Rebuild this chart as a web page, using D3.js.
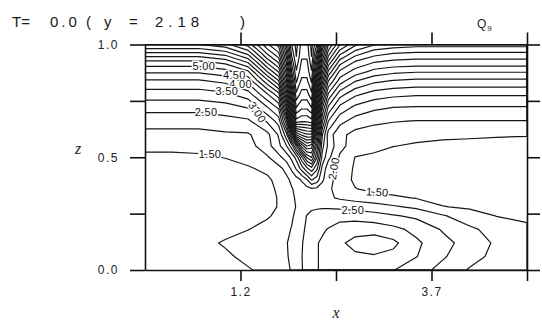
<!DOCTYPE html>
<html>
<head>
<meta charset="utf-8">
<script src="https://cdn.jsdelivr.net/npm/d3@7"></script>
<style>
  html, body { margin: 0; padding: 0; background: #fff; }
  svg { display: block; font-family: "Liberation Sans", Arial, sans-serif; }
</style>
</head>
<body>
<svg id="chart" width="542" height="321"></svg>
<script>
// Section nodes: x along the cross-section, z height (bottom to top)
const xNodes = [-0.05, 0.3, 0.65, 1.0, 1.3, 1.55, 1.7, 1.8, 1.87, 1.93, 2.0, 2.07, 2.13,
                2.2, 2.27, 2.35, 2.5, 2.7, 2.95, 3.2, 3.5, 3.85, 4.2, 4.55, 4.95];
const zNodes = [0, 0.06, 0.12, 0.18, 0.24, 0.28, 0.32, 0.36, 0.40, 0.45, 0.50, 0.55,
                0.60, 0.66, 0.72, 0.78, 0.84, 0.88, 0.92, 0.95, 0.975, 1.0];

// Q9 on the nodes, one row per z level (bottom row first)
const qRows = [
  [1.3, 1.3, 1.31, 1.36, 1.46, 1.62, 1.78, 1.9, 2.04, 2.2, 2.46, 2.7, 2.88, 2.98, 3.05, 3.1, 3.18, 3.25, 3.2, 3.02, 2.7, 2.35, 1.95, 1.75, 1.7],
  [1.3, 1.3, 1.32, 1.42, 1.62, 1.78, 1.88, 1.96, 2.08, 2.22, 2.48, 2.72, 2.9, 2.98, 3.05, 3.12, 3.25, 3.4, 3.45, 3.35, 3.02, 2.55, 2.2, 1.85, 1.7],
  [1.3, 1.31, 1.35, 1.55, 1.72, 1.84, 1.92, 1.98, 2.08, 2.2, 2.45, 2.7, 2.88, 2.98, 3.05, 3.15, 3.4, 3.68, 3.8, 3.62, 3.1, 2.65, 2.3, 1.92, 1.68],
  [1.3, 1.3, 1.31, 1.35, 1.49, 1.65, 1.8, 1.92, 2.02, 2.15, 2.38, 2.6, 2.78, 2.88, 2.95, 3.02, 3.18, 3.28, 3.3, 3.15, 2.85, 2.45, 2.1, 1.8, 1.58],
  [1.3, 1.3, 1.3, 1.32, 1.36, 1.45, 1.6, 1.8, 1.95, 2.08, 2.3, 2.52, 2.65, 2.72, 2.78, 2.82, 2.85, 2.82, 2.7, 2.55, 2.4, 2.05, 1.7, 1.49, 1.42],
  [1.3, 1.3, 1.3, 1.31, 1.34, 1.4, 1.52, 1.7, 1.88, 2.02, 2.2, 2.32, 2.4, 2.42, 2.43, 2.42, 2.38, 2.3, 2.2, 2.07, 1.9, 1.52, 1.43, 1.36, 1.34],
  [1.31, 1.31, 1.31, 1.32, 1.35, 1.4, 1.52, 1.75, 1.92, 2.05, 2.2, 2.3, 2.33, 2.28, 2.18, 2.08, 1.93, 1.82, 1.72, 1.6, 1.47, 1.35, 1.3, 1.28, 1.28],
  [1.32, 1.32, 1.32, 1.33, 1.36, 1.41, 1.55, 1.8, 1.97, 2.1, 2.25, 2.35, 2.45, 2.4, 2.25, 2.1, 1.75, 1.52, 1.35, 1.27, 1.24, 1.23, 1.23, 1.23, 1.24],
  [1.33, 1.33, 1.34, 1.35, 1.38, 1.44, 1.6, 1.88, 2.1, 2.3, 2.55, 2.95, 3.55, 3.25, 2.6, 2.15, 1.8, 1.4, 1.3, 1.25, 1.24, 1.24, 1.24, 1.24, 1.25],
  [1.36, 1.36, 1.37, 1.4, 1.46, 1.58, 1.85, 2.15, 2.6, 3.05, 3.7, 4.4, 4.82, 4.1, 2.85, 2.2, 1.75, 1.45, 1.35, 1.3, 1.28, 1.27, 1.27, 1.27, 1.27],
  [1.44, 1.44, 1.46, 1.51, 1.62, 1.94, 2.36, 2.72, 3.14, 3.68, 4.86, 6.09, 6.55, 5.05, 3.35, 2.63, 1.94, 1.49, 1.42, 1.35, 1.32, 1.31, 1.31, 1.31, 1.31],
  [1.57, 1.57, 1.58, 1.62, 1.8, 2.3, 2.87, 3.45, 4.26, 5.55, 7.19, 8.02, 7.73, 5.82, 3.67, 2.87, 2.13, 1.8, 1.62, 1.51, 1.45, 1.42, 1.41, 1.4, 1.39],
  [1.85, 1.85, 1.85, 1.92, 1.94, 2.36, 3.06, 4.3, 6.45, 9.02, 9.6, 9.9, 9.9, 6.7, 4.06, 2.76, 2.14, 1.83, 1.75, 1.65, 1.62, 1.57, 1.55, 1.53, 1.52],
  [2.2, 2.2, 2.2, 2.3, 2.4, 3.06, 3.72, 5.83, 9.55, 12.3, 12.1, 12.1, 12.3, 8.1, 5.11, 3.49, 2.66, 2.29, 2.1, 2.03, 1.98, 1.98, 1.98, 1.98, 1.98],
  [2.68, 2.68, 2.68, 2.79, 3.02, 3.95, 4.6, 7.52, 10.8, 13.5, 13.1, 13.1, 13.5, 9.4, 6.1, 4.39, 3.35, 2.86, 2.6, 2.49, 2.45, 2.45, 2.45, 2.45, 2.45],
  [3.25, 3.25, 3.25, 3.39, 3.78, 4.96, 5.83, 9.1, 12.02, 14.4, 13.8, 13.8, 14.4, 10.6, 7.4, 5.43, 4.23, 3.62, 3.28, 3.14, 3.07, 3.07, 3.07, 3.07, 3.07],
  [3.95, 3.95, 3.95, 4.15, 4.69, 6.38, 7.52, 10.4, 13.2, 15.1, 14.4, 14.4, 15.1, 11.8, 8.78, 6.52, 5.3, 4.56, 4.14, 3.98, 3.9, 3.9, 3.9, 3.9, 3.9],
  [4.6, 4.6, 4.6, 4.81, 5.43, 7.52, 8.57, 11.2, 14.02, 15.45, 14.7, 14.7, 15.45, 12.6, 9.6, 7.4, 5.9, 5.3, 4.83, 4.64, 4.55, 4.55, 4.55, 4.55, 4.55],
  [5.3, 5.3, 5.3, 5.62, 6.52, 8.57, 9.55, 12.02, 14.6, 15.8, 14.9, 14.9, 15.8, 13.4, 10.4, 8.33, 6.7, 5.9, 5.49, 5.35, 5.3, 5.3, 5.3, 5.3, 5.3],
  [6.1, 6.1, 6.1, 6.44, 7.36, 9.33, 10.2, 12.6, 15.02, 16.02, 15.1, 15.1, 16.02, 14.02, 11.02, 9.02, 7.4, 6.52, 6.02, 5.78, 5.7, 5.7, 5.7, 5.7, 5.7],
  [6.8, 6.8, 6.8, 7.14, 8.03, 9.89, 10.7, 13.1, 15.3, 16.1, 15.2, 15.2, 16.1, 14.52, 11.52, 9.52, 7.98, 7.05, 6.47, 6.3, 6.2, 6.2, 6.2, 6.2, 6.2],
  [7.5, 7.5, 7.5, 7.82, 8.7, 10.4, 11.2, 13.6, 15.52, 16.2, 15.3, 15.3, 16.2, 15.02, 12.02, 10.02, 8.55, 7.63, 7.05, 6.82, 6.7, 6.7, 6.7, 6.7, 6.7]
];

// Contour interval 0.5
const contourLevels = [1.5, 2.0, 2.5, 3.0, 3.5, 4.0, 4.5, 5.0, 5.5, 6.0, 6.5, 7.0,
                       7.5, 8.0, 8.5, 9.0, 9.5, 10.0, 10.5, 11.0, 11.5, 12.0, 12.5,
                       13.0, 13.5, 14.0, 14.5, 15.0, 15.5, 16.0];

// Labelled contour values
const labelValues = [5.0, 4.5, 4.0, 3.5, 2.5, 3.0, 1.5, 2.0, 1.5, 2.5];

// Axis ticks
const xTicks = [1.2, 2.45, 3.7, 4.95];
const xTickLabels = ["1.2", "", "3.7", ""];
const zTicks = [0, 0.25, 0.5, 0.75, 1.0];
const zTickLabels = ["0.0", "", "0.5", "", "1.0"];

// ---------------------------------------------------------------------------
const svg = d3.select("#chart");
const W = 542, H = 321;
const plot = { left: 145, right: 527, top: 44.5, bottom: 270 };

const xScale = d3.scaleLinear().domain([-0.05, 4.95]).range([plot.left, plot.right]);
const zScale = d3.scaleLinear().domain([0, 1]).range([plot.bottom, plot.top]);

svg.append("rect").attr("width", W).attr("height", H).attr("fill", "#fff");

svg.append("defs").append("clipPath").attr("id", "plotClip")
  .append("rect")
  .attr("x", plot.left).attr("y", plot.top)
  .attr("width", plot.right - plot.left).attr("height", plot.bottom - plot.top);

// Flatten the node grid for d3.contours
const nx = xNodes.length, nz = zNodes.length;
const values = [];
for (let j = 0; j < nz; j++) for (let i = 0; i < nx; i++) values.push(qRows[j][i]);

const contours = d3.contours().size([nx, nz]).thresholds(contourLevels)(values);

// Grid coordinate -> node coordinate (nodes are unevenly spaced)
function gridToValue(nodes, g) {
  const u = Math.max(0, Math.min(nodes.length - 1, g - 0.5));
  const k = Math.min(nodes.length - 2, Math.floor(u));
  const f = u - k;
  return nodes[k] + f * (nodes[k + 1] - nodes[k]);
}

const proj = d3.geoTransform({
  point(gx, gz) {
    this.stream.point(xScale(gridToValue(xNodes, gx)), zScale(gridToValue(zNodes, gz)));
  }
});
const path = d3.geoPath(proj);

svg.append("g")
  .attr("clip-path", "url(#plotClip)")
  .selectAll("path")
  .data(contours)
  .join("path")
  .attr("d", path)
  .attr("fill", "none")
  .attr("stroke", "#161616")
  .attr("stroke-width", 1.2)
  .attr("stroke-linejoin", "round");

// Contour labels (x, z, rotation) in the same order as labelValues
const labelAnchors = [
  [0.72, 0.905, 0], [1.12, 0.866, 0], [1.2, 0.825, 0], [1.02, 0.795, 0],
  [0.75, 0.702, 0], [1.42, 0.7, 56], [0.80, 0.515, 0], [2.42, 0.45, -80],
  [2.99, 0.346, 4], [2.67, 0.264, 0]
];
const lab = svg.append("g").attr("font-size", 11).attr("letter-spacing", 0.3);
labelValues.forEach((v, i) => {
  const [lx, lz, ang] = labelAnchors[i];
  lab.append("text")
    .attr("transform", `translate(${xScale(lx)},${zScale(lz)}) rotate(${ang})`)
    .attr("text-anchor", "middle")
    .attr("dy", "0.36em")
    .attr("fill", "#111")
    .attr("stroke", "#fff")
    .attr("stroke-width", 3)
    .attr("paint-order", "stroke")
    .text(v.toFixed(2));
});

// Frame with outward ticks on all four sides
function styleAxis(g) {
  g.selectAll("path, line").attr("stroke", "#111").attr("stroke-width", 1.6);
  g.selectAll("text").attr("fill", "#222").attr("font-family", '"Liberation Sans", Arial, sans-serif');
}

svg.append("g").attr("transform", `translate(0,${plot.bottom})`)
  .call(d3.axisBottom(xScale).tickValues(xTicks).tickSize(11).tickSizeOuter(0)
    .tickPadding(6).tickFormat((d, i) => xTickLabels[i]))
  .call(styleAxis)
  .call(g => g.selectAll("text").attr("font-size", 12).attr("letter-spacing", 1.5));

svg.append("g").attr("transform", `translate(0,${plot.top})`)
  .call(d3.axisTop(xScale).tickValues(xTicks).tickSize(12).tickSizeOuter(0).tickFormat(""))
  .call(styleAxis);

svg.append("g").attr("transform", `translate(${plot.left},0)`)
  .call(d3.axisLeft(zScale).tickValues(zTicks).tickSize(15).tickSizeOuter(0)
    .tickPadding(11).tickFormat((d, i) => zTickLabels[i]))
  .call(styleAxis)
  .call(g => g.selectAll("text").attr("font-size", 12).attr("letter-spacing", 1.5));

svg.append("g").attr("transform", `translate(${plot.right},0)`)
  .call(d3.axisRight(zScale).tickValues(zTicks).tickSize(13).tickSizeOuter(0).tickFormat(""))
  .call(styleAxis);

// Axis titles
svg.append("text").attr("x", 336).attr("y", 318).attr("text-anchor", "middle")
  .attr("font-family", '"Liberation Serif", "DejaVu Serif", serif')
  .attr("font-style", "italic").attr("font-size", 16).attr("fill", "#222").text("x");
svg.append("text").attr("x", 78).attr("y", 154).attr("text-anchor", "middle")
  .attr("font-family", '"Liberation Serif", "DejaVu Serif", serif')
  .attr("font-style", "italic").attr("font-size", 16).attr("fill", "#222").text("z");

// Header line
const head = svg.append("g").attr("font-size", 15).attr("fill", "#1a1a1a");
head.append("text").attr("x", 12).attr("y", 27).text("T=");
head.append("text").attr("x", 50).attr("y", 27).attr("letter-spacing", 3).text("0.0");
head.append("text").attr("x", 86).attr("y", 27).text("(");
head.append("text").attr("x", 104).attr("y", 27).text("y");
head.append("text").attr("x", 129).attr("y", 27).text("=");
head.append("text").attr("x", 155).attr("y", 27).attr("letter-spacing", 5).text("2.18");
head.append("text").attr("x", 240).attr("y", 27).text(")");
const q = svg.append("text").attr("x", 477).attr("y", 28).attr("font-size", 12).attr("fill", "#1a1a1a");
q.append("tspan").text("Q");
q.append("tspan").attr("font-size", 8).attr("dx", 1).attr("dy", 3).text("9");
</script>
</body>
</html>
